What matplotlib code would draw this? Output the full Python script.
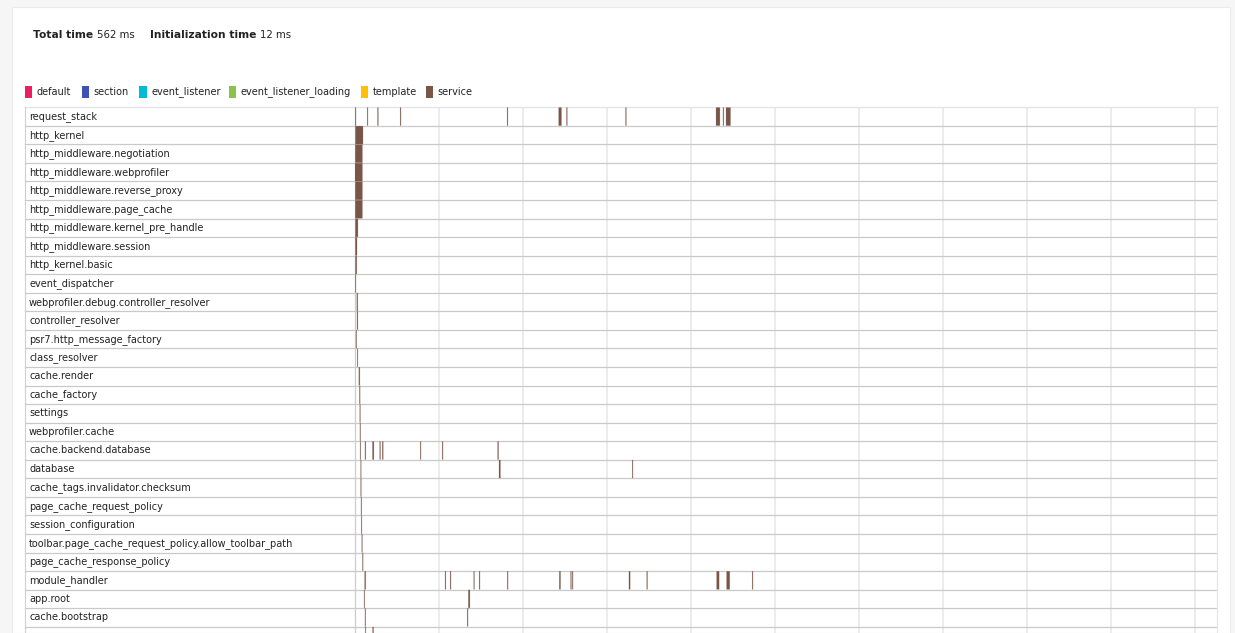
import matplotlib
matplotlib.use('Agg')
import matplotlib.pyplot as plt
from matplotlib.patches import Rectangle
from matplotlib.colors import to_rgba
import numpy as np

# ---------------- data ----------------
total_time_ms = 562
init_time_ms = 12

legend_names = ['default', 'section', 'event_listener', 'event_listener_loading', 'template', 'service']
legend_colors = ['#e91e63', '#3f51b5', '#00bcd4', '#8bc34a', '#ffc107', '#795548']

services = [
    'request_stack', 'http_kernel', 'http_middleware.negotiation', 'http_middleware.webprofiler',
    'http_middleware.reverse_proxy', 'http_middleware.page_cache', 'http_middleware.kernel_pre_handle',
    'http_middleware.session', 'http_kernel.basic', 'event_dispatcher',
    'webprofiler.debug.controller_resolver', 'controller_resolver', 'psr7.http_message_factory',
    'class_resolver', 'cache.render', 'cache_factory', 'settings', 'webprofiler.cache',
    'cache.backend.database', 'database', 'cache_tags.invalidator.checksum',
    'page_cache_request_policy', 'session_configuration',
    'toolbar.page_cache_request_policy.allow_toolbar_path', 'page_cache_response_policy',
    'module_handler', 'app.root', 'cache.bootstrap', '',
]

# start (ms) of each service event, per row
event_starts = [
    [0.2, 8.0, 14.7, 29.5, 99.2, 132.8, 137.9, 176.4, 235.4, 239.9, 241.9],
    [0.3], [0.2], [0.0], [0.2], [0.2], [0.3], [0.3], [0.3], [0.2],
    [1.2], [1.3], [0.65], [1.5], [2.5], [2.9], [3.1], [3.2],
    [3.3, 6.5, 11.4, 16.1, 17.8, 42.6, 56.9, 93.0],
    [3.7, 93.9, 180.8],
    [3.7], [3.9], [4.1], [4.4], [4.9],
    [6.3, 58.7, 62.1, 77.4, 81.0, 99.3, 133.2, 140.6, 141.7, 178.6, 190.2, 235.8, 242.3, 259.0],
    [5.9, 73.9],
    [6.5, 73.2],
    [6.7, 11.5],
]
# duration (ms) of each service event, per row
event_durations = [
    [0.4, 0.45, 0.5, 0.5, 0.5, 1.8, 0.5, 0.5, 2.5, 0.5, 2.9],
    [4.9], [4.6], [4.8], [4.6], [4.6], [1.6], [1.0], [0.85], [0.35],
    [0.6], [0.55], [0.35], [0.4], [0.65], [0.45], [0.4], [0.4],
    [0.4, 0.5, 0.9, 0.5, 0.6, 0.45, 0.5, 0.6],
    [0.35, 0.9, 0.45],
    [0.4], [0.4], [0.4], [0.4], [0.4],
    [0.7, 0.5, 0.5, 0.45, 0.5, 0.5, 0.8, 0.45, 0.45, 0.8, 0.5, 1.6, 2.0, 0.5],
    [0.4, 1.0],
    [0.4, 0.5],
    [0.4, 0.6],
]

# ---------------- layout ----------------
W, H = 1235, 633
plt.rcParams['font.family'] = ['DejaVu Sans']
fig = plt.figure(figsize=(W / 100, H / 100), dpi=100, facecolor='#f6f6f6')

def fx(x):
    return x / W

def fy(y):
    return 1 - y / H

# white panel
fig.patches.append(Rectangle((fx(12), 0), (1230 - 12) / W, (H - 7) / H, transform=fig.transFigure,
                             facecolor='white', edgecolor='#ebebeb', lw=0.8, zorder=-10))

renderer = fig.canvas.get_renderer()

# header
x = 33
parts = [('Total time', 'bold', 7.7, 3.5), ('%d ms' % total_time_ms, 'normal', 7.3, 16.0),
         ('Initialization time', 'bold', 7.7, 3.5), ('%d ms' % init_time_ms, 'normal', 7.3, 0)]
for txt, wgt, fs, gap in parts:
    t = fig.text(fx(x), fy(35), txt, fontsize=fs, fontweight=wgt, color='#222222',
                 va='center', ha='left')
    bb = t.get_window_extent(renderer)
    x = x + bb.width + gap

# legend
leg_x = [25, 82, 139.3, 228.7, 361, 426]
for lx, name, col in zip(leg_x, legend_names, legend_colors):
    fig.patches.append(Rectangle((fx(lx), fy(98)), 7.3 / W, 12 / H, transform=fig.transFigure,
                                 facecolor=col, edgecolor='none'))
    fig.text(fx(lx + 11.7), fy(92), name, fontsize=7.0, color='#222222', va='center', ha='left')

# timeline axes
n_rows = len(services)
row_h = 18.55
top = 107.3
left, right = 355, 1217
bottom_px = top + n_rows * row_h
ax = fig.add_axes([fx(left), fy(bottom_px), (right - left) / W, n_rows * row_h / H])
ax.set_xlim(0, total_time_ms)
ax.set_ylim(n_rows - 0.5, -0.5)
ax.set_facecolor('none')
for s in ax.spines.values():
    s.set_visible(False)

grid_step = total_time_ms * 84 / (right - left)
ax.set_xticks(np.arange(1, 11) * grid_step)
ax.set_yticks([])
ax.tick_params(length=0, labelbottom=False, labelleft=False)
ax.grid(axis='x', color='#ececec', lw=1.4, zorder=0)
ax.set_axisbelow(True)

label_left = (25 - left) / (right - left)
label_x = (29 - left) / (right - left)
ytr = ax.get_yaxis_transform()

# row separators
for b in np.arange(-0.5, n_rows + 0.5, 1.0):
    col = '#e2e2e2' if b == -0.5 else '#c9c9c9'
    ax.plot([label_left, 1], [b, b], transform=ytr, color=col, lw=0.9, clip_on=False, zorder=1)
# vertical borders
ax.plot([label_left, label_left], [-0.5, n_rows - 0.5], transform=ytr, color='#cfcfcf', lw=0.8,
        clip_on=False, zorder=1)
ax.plot([0, 0], [-0.5, n_rows - 0.5], transform=ytr, color='#cccccc', lw=0.9, clip_on=False, zorder=1)
ax.plot([1, 1], [-0.5, n_rows - 0.5], transform=ytr, color='#e6e6e6', lw=0.9, clip_on=False, zorder=1)

# labels
for i, name in enumerate(services):
    ax.text(label_x, i, name, transform=ytr, fontsize=7.0, color='#222222', va='center', ha='left')

# service events
halo = to_rgba(legend_colors[5], 0.28)
for i, (starts, durs) in enumerate(zip(event_starts, event_durations)):
    ax.barh([i] * len(starts), durs, left=starts, height=0.97, color=legend_colors[5],
            edgecolor=halo, lw=0.5, snap=False, zorder=2)

fig.savefig('out.png', dpi=100, facecolor=fig.get_facecolor())
